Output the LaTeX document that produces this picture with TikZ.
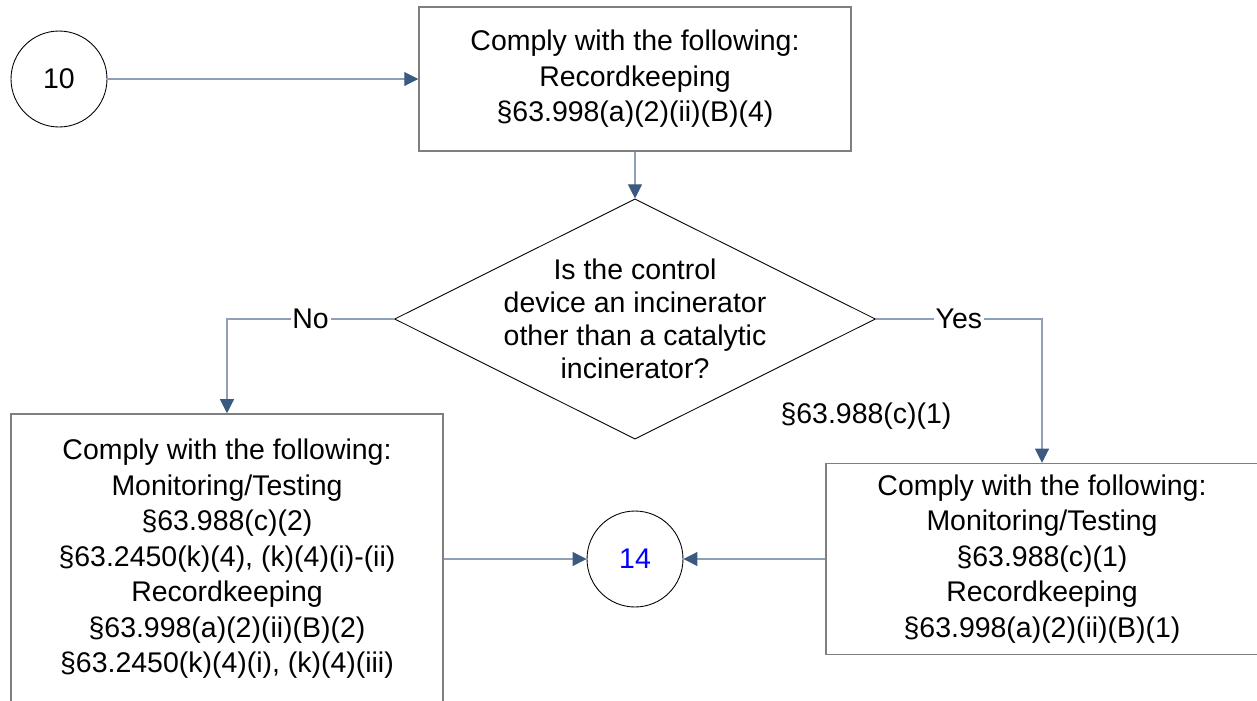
\documentclass[tikz,border=0pt]{standalone}
\usepackage{fontspec}
\setmainfont{Liberation Sans}
\usetikzlibrary{shapes.geometric,arrows.meta}
\definecolor{boxgray}{HTML}{7F7F7F}
\definecolor{linegray}{HTML}{8EA0B8}
\definecolor{tipblue}{HTML}{3B5A80}
\begin{document}
\begin{tikzpicture}[x=0.02cm, y=-0.02cm,
    every node/.style={font=\fontsize{16.2}{20.2}\selectfont},
    box/.style={draw=boxgray, line width=0.9pt, align=center, inner sep=0pt, minimum width=8.64cm},
    circ/.style={draw=black, circle, line width=0.5pt, minimum size=1.92cm, inner sep=0pt},
    decision/.style={draw=black, diamond, aspect=2, line width=0.5pt, inner sep=-2.1pt,
      minimum width=9.62cm, minimum height=4.78cm, align=center,
      font=\fontsize{16.2}{18.8}\selectfont},
    conn/.style={draw=linegray, line width=0.6pt,
      -{Triangle[length=0.28cm, width=0.28cm, fill=tipblue, color=tipblue]}},
    lbl/.style={fill=white, inner sep=1pt}]
    \useasboundingbox (0,0) rectangle (1257,700);
    \node[circ] (n10) at (59,79) {10};
    \node[box, minimum height=2.88cm] (top) at (635,79)
      {Comply with the following:\\Recordkeeping\\§63.998(a)(2)(ii)(B)(4)};
    \node[decision] (dec) at (635,319)
      {Is the control\\device an incinerator\\other than a catalytic\\incinerator?};
    \node[box, minimum height=5.8cm] (left) at (227,559)
      {Comply with the following:\\Monitoring/Testing\\§63.988(c)(2)\\§63.2450(k)(4), (k)(4)(i)-(ii)\\Recordkeeping\\§63.998(a)(2)(ii)(B)(2)\\§63.2450(k)(4)(i), (k)(4)(iii)};
    \node[box, minimum height=3.82cm] (right) at (1042,559)
      {Comply with the following:\\Monitoring/Testing\\§63.988(c)(1)\\Recordkeeping\\§63.998(a)(2)(ii)(B)(1)};
    \node[circ, text=blue] (c14) at (635,559) {14};
    \node (ref988) at (866,416) {§63.988(c)(1)};
    % CONNETTORI
    \draw[conn] (n10) -- (top);
    \draw[conn] (top) -- (dec);
    \draw[conn] (dec.west) -| node[lbl, pos=0.25] {No} (left.north);
    \draw[conn] (dec.east) -| node[lbl, pos=0.25] {Yes} (right.north);
    \draw[conn] (left) -- (c14);
    \draw[conn] (right) -- (c14);
\end{tikzpicture}
\end{document}
